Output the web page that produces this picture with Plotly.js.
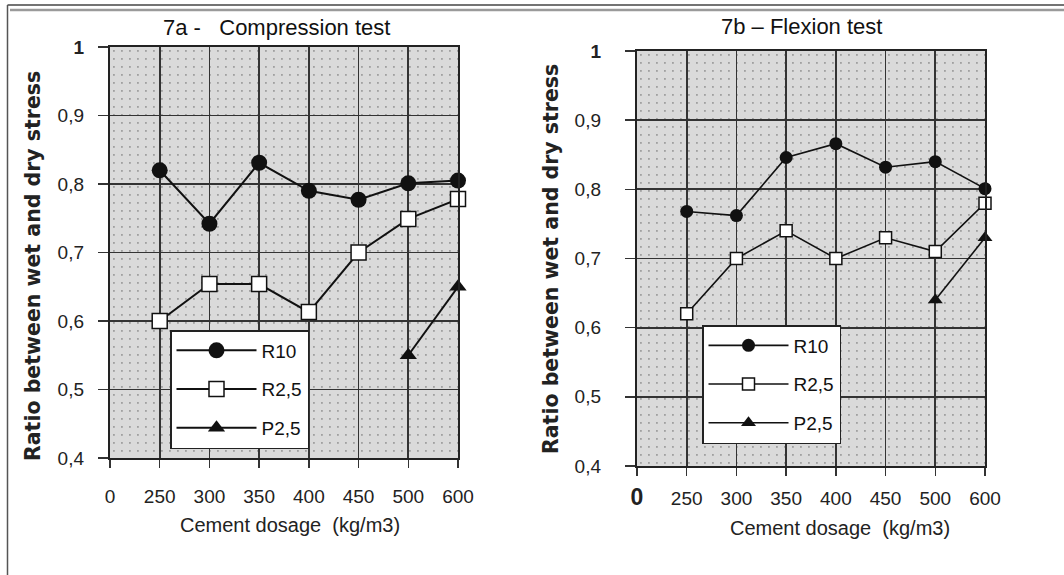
<!DOCTYPE html>
<html><head><meta charset="utf-8">
<script src="https://cdn.plot.ly/plotly-3.0.1.min.js"></script>
<style>html,body{margin:0;padding:0;background:#fff;}</style>
</head><body>
<div id="chart" style="width:1064px;height:575px;"></div>
<script>
// ---- data ----
const dosageCategories = ['0','250','300','350','400','450','500','600'];
const yTickVals = [0.4,0.5,0.6,0.7,0.8,0.9,1.0];
const yTickText = ['0,4','0,5','0,6','0,7','0,8','0,9','<b>1</b>'];

// 7a - Compression test
const compX_R10 = ['250','300','350','400','450','500','600'];
const comp_R10  = [0.82,0.742,0.831,0.79,0.777,0.801,0.805];
const compX_R25 = ['250','300','350','400','450','500','600'];
const comp_R25  = [0.60,0.654,0.654,0.613,0.70,0.749,0.778];
const compX_P25 = ['500','600'];
const comp_P25  = [0.55,0.65];

// 7b - Flexion test
const flexX_R10 = ['250','300','350','400','450','500','600'];
const flex_R10  = [0.768,0.762,0.846,0.866,0.832,0.84,0.801];
const flexX_R25 = ['250','300','350','400','450','500','600'];
const flex_R25  = [0.62,0.70,0.74,0.70,0.73,0.71,0.78];
const flexX_P25 = ['500','600'];
const flex_P25  = [0.64,0.73];

const seriesNames = ['R10','R2,5','P2,5'];

// ---- styling ----
const W = 1064, H = 575;
const sans = '"Liberation Sans", Arial, sans-serif';
const dom1 = {x:[110/W, 458/W], y:[1-458/H, 1-47/H]};
const dom2 = {x:[637/W, 985/W], y:[1-466/H, 1-51/H]};

function mk(x, y, name, sym, size, lw, xa, ya, legend, grp){
  const filled = sym !== 'square';
  return {
    x: x, y: y, name: name, type: 'scatter', mode: 'lines+markers',
    xaxis: xa, yaxis: ya, legend: legend, legendgroup: grp,
    line: {color: '#111', width: lw},
    marker: {symbol: sym, size: size, color: filled ? '#111' : '#fff',
             line: {color: '#111', width: filled ? 0 : 1.5}},
    cliponaxis: false
  };
}

const traces = [
  mk(compX_R10, comp_R10, seriesNames[0], 'circle', 16, 2, 'x', 'y', 'legend', 'a1'),
  mk(compX_R25, comp_R25, seriesNames[1], 'square', 15, 2, 'x', 'y', 'legend', 'a2'),
  mk(compX_P25, comp_P25, seriesNames[2], 'triangle-up', 15, 2, 'x', 'y', 'legend', 'a3'),
  mk(flexX_R10, flex_R10, seriesNames[0], 'circle', 13, 1.6, 'x2', 'y2', 'legend2', 'b1'),
  mk(flexX_R25, flex_R25, seriesNames[1], 'square', 12, 1.6, 'x2', 'y2', 'legend2', 'b2'),
  mk(flexX_P25, flex_P25, seriesNames[2], 'triangle-up', 13, 1.6, 'x2', 'y2', 'legend2', 'b3')
];

function xaxis(dom, anchor, ticktext, standoff){
  return {
    domain: dom, anchor: anchor, type: 'category',
    categoryorder: 'array', categoryarray: dosageCategories,
    range: [0, 7], tickmode: 'array', tickvals: dosageCategories, ticktext: ticktext,
    showgrid: true, gridcolor: '#333', gridwidth: 1.8,
    showline: true, linecolor: '#222', linewidth: 2.2, mirror: true,
    ticks: 'outside', ticklen: 8, tickwidth: 1.5, tickcolor: '#333',
    ticklabelstandoff: standoff,
    tickfont: {family: sans, size: 19, color: '#222'},
    zeroline: false, fixedrange: true
  };
}
function yaxis(dom, anchor, standoff){
  return {
    domain: dom, anchor: anchor, range: [0.4, 1.0],
    tickmode: 'array', tickvals: yTickVals, ticktext: yTickText,
    showgrid: true, gridcolor: '#333', gridwidth: 1.8,
    showline: true, linecolor: '#222', linewidth: 2.2, mirror: true,
    ticks: 'outside', ticklen: 10, tickwidth: 1.5, tickcolor: '#333',
    ticklabelstandoff: standoff,
    tickfont: {family: sans, size: 19, color: '#222'},
    zeroline: false, fixedrange: true
  };
}

function patternSvg(w, h){
  const s = '<svg xmlns="http://www.w3.org/2000/svg" width="'+w+'" height="'+h+'">' +
    '<defs><pattern id="p" width="8" height="8" patternUnits="userSpaceOnUse">' +
    '<rect width="8" height="8" fill="#dadada"/>' +
    '<rect x="3" y="3" width="1.8" height="1.8" fill="#a0a0a0"/></pattern></defs>' +
    '<rect width="100%" height="100%" fill="url(#p)"/></svg>';
  return 'data:image/svg+xml;charset=utf-8,' + encodeURIComponent(s);
}
function bgImage(d){
  const w = (d.x[1]-d.x[0])*W, h = (d.y[1]-d.y[0])*H;
  return {source: patternSvg(Math.round(w), Math.round(h)), xref: 'paper', yref: 'paper',
    x: d.x[0], y: d.y[1], sizex: d.x[1]-d.x[0], sizey: d.y[1]-d.y[0],
    xanchor: 'left', yanchor: 'top', sizing: 'stretch', layer: 'below'};
}

const xt1 = dosageCategories.slice();
const xt2 = dosageCategories.map((c,i)=> i===0 ? '<b><span style="font-size:23px">0</span></b>' : c);

const legendBase = {
  bgcolor: '#fff', bordercolor: '#222', borderwidth: 1.5,
  font: {family: sans, size: 19, color: '#111'},
  xanchor: 'left', yanchor: 'top', tracegroupgap: 11, itemwidth: 80,
  itemsizing: 'trace', orientation: 'v'
};

const layout = {
  width: W, height: H,
  margin: {l: 0, r: 0, t: 0, b: 0},
  paper_bgcolor: '#fff', plot_bgcolor: '#dadada',
  showlegend: true,
  xaxis: xaxis(dom1.x, 'y', xt1, 12),
  yaxis: yaxis(dom1.y, 'x', 10),
  xaxis2: xaxis(dom2.x, 'y2', xt2, 6),
  yaxis2: yaxis(dom2.y, 'x2', 20),
  legend: Object.assign({}, legendBase, {x: 170/W, y: 1-330/H}),
  legend2: Object.assign({}, legendBase, {x: 702/W, y: 1-325/H}),
  images: [bgImage(dom1), bgImage(dom2)],
  annotations: [
    {text: '7a -\u00a0\u00a0 Compression test', xref: 'paper', yref: 'paper',
     x: 276/W, y: 1-28/H, showarrow: false, xanchor: 'center', yanchor: 'middle',
     font: {family: sans, size: 22, color: '#111'}},
    {text: '7b \u2013 Flexion test', xref: 'paper', yref: 'paper',
     x: 801/W, y: 1-26/H, showarrow: false, xanchor: 'center', yanchor: 'middle',
     font: {family: sans, size: 22, color: '#111'}},
    {text: 'Cement dosage\u00a0 (kg/m3)', xref: 'paper', yref: 'paper',
     x: 290/W, y: 1-525/H, showarrow: false, xanchor: 'center', yanchor: 'middle',
     font: {family: sans, size: 20, color: '#222'}},
    {text: 'Cement dosage\u00a0 (kg/m3)', xref: 'paper', yref: 'paper',
     x: 840/W, y: 1-528/H, showarrow: false, xanchor: 'center', yanchor: 'middle',
     font: {family: sans, size: 20, color: '#222'}},
    {text: 'Ratio between wet and dry stress', xref: 'paper', yref: 'paper',
     x: 33/W, y: 1-266/H, showarrow: false, textangle: -90, xanchor: 'center', yanchor: 'middle',
     font: {family: '"DejaVu Sans", sans-serif', size: 20.5, color: '#222', weight: 'bold'}},
    {text: 'Ratio between wet and dry stress', xref: 'paper', yref: 'paper',
     x: 551/W, y: 1-259/H, showarrow: false, textangle: -90, xanchor: 'center', yanchor: 'middle',
     font: {family: '"DejaVu Sans", sans-serif', size: 20.5, color: '#222', weight: 'bold'}}
  ],
  shapes: [
    {type: 'line', xref: 'paper', yref: 'paper', x0: 7.5/W, x1: 1, y0: 1-5/H, y1: 1-5/H,
     line: {color: '#444', width: 1.5}},
    {type: 'line', xref: 'paper', yref: 'paper', x0: 10/W, x1: 1, y0: 1-10/H, y1: 1-10/H,
     line: {color: '#9a9a9a', width: 2.5}},
    {type: 'line', xref: 'paper', yref: 'paper', x0: 7.5/W, x1: 7.5/W, y0: 0, y1: 1-5/H,
     line: {color: '#555', width: 1.5}}
  ]
};

Plotly.newPlot('chart', traces, layout, {staticPlot: true, displayModeBar: false});
</script>
</body></html>
